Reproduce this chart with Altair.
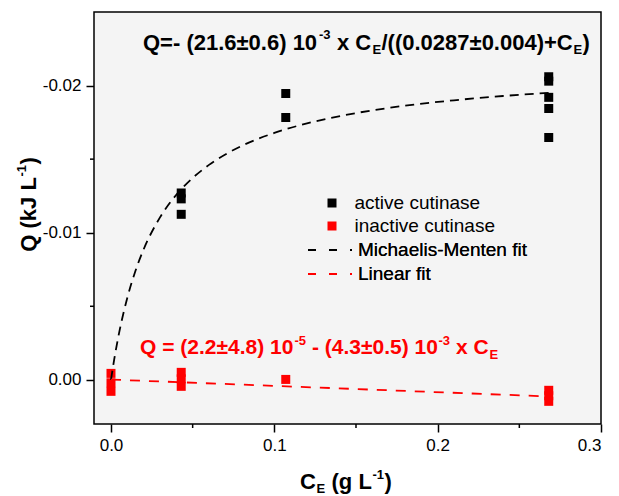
import altair as alt
import pandas as pd

# ---------------- data ----------------
active_x = [0.043, 0.043, 0.043, 0.107, 0.107, 0.268, 0.268, 0.268, 0.268, 0.268]
active_q = [-0.0127, -0.0123, -0.01125, -0.01946, -0.01783,
            -0.0206, -0.0203, -0.0192, -0.01844, -0.01647]

inactive_x = [0.0, 0.0, 0.0, 0.043, 0.043, 0.043, 0.107, 0.268, 0.268, 0.268]
inactive_q = [-0.00044, 0.0002, 0.00078, -0.00051, -0.00007, 0.00044,
              -0.00003, 0.00071, 0.00108, 0.00146]

mm_x = [0.0, 0.002, 0.005, 0.01, 0.015, 0.02, 0.03, 0.04, 0.05, 0.06,
        0.08, 0.10, 0.12, 0.15, 0.18, 0.21, 0.24, 0.268]
mm_q = [0.0, -0.00141, -0.00321, -0.00558, -0.00741, -0.00887, -0.01104,
        -0.01258, -0.01372, -0.01461, -0.01590, -0.01678, -0.01743,
        -0.01813, -0.01863, -0.01900, -0.01929, -0.01951]

lin_x = [0.0, 0.268]
lin_q = [-0.00002, 0.00113]

series_names = ["active cutinase", "inactive cutinase"]
fit_names = ["Michaelis-Menten fit", "Linear fit"]

x_major = [0.0, 0.1, 0.2, 0.3]
x_minor = [0.05, 0.15, 0.25]
y_major = [-0.02, -0.01, 0.0]
y_minor = [-0.015, -0.005]

# ---------------- tables ----------------
pts = pd.DataFrame({
    "conc": active_x + inactive_x,
    "q": active_q + inactive_q,
    "series": [series_names[0]] * len(active_x) + [series_names[1]] * len(inactive_x),
})
mm_df = pd.DataFrame({"conc": mm_x, "q": mm_q, "fit": fit_names[0]})
lin_df = pd.DataFrame({"conc": lin_x, "q": lin_q, "fit": fit_names[1]})

FONT = "Liberation Sans"
W, H = 507, 412
LEFT, TOP = 94, 12

xs = alt.Scale(domain=[-0.0104, 0.3], nice=False, zero=False)
ys = alt.Scale(domain=[-0.025, 0.003], nice=False, zero=False, reverse=True)

xaxis = alt.Axis(values=x_major, format=".1f", title=None, grid=False, domain=False,
                 tickSize=8, tickWidth=1.5, tickColor="black",
                 labelFont=FONT, labelFontSize=17, labelColor="black", labelPadding=5)
yaxis = alt.Axis(values=y_major,
                 labelExpr="datum.value < 0 ? '-' + format(-datum.value, '.2f') : format(datum.value, '.2f')",
                 title=None, grid=False, domain=False,
                 tickSize=8, tickWidth=1.5, tickColor="black",
                 labelFont=FONT, labelFontSize=17, labelColor="black", labelPadding=5)

X = alt.X("conc:Q", scale=xs, axis=xaxis)
Y = alt.Y("q:Q", scale=ys, axis=yaxis)

# plot-area frame and background
frame = alt.Chart(pd.DataFrame({"f": [0]})).mark_rect(
    fill="#f4f4f4", stroke="black", strokeWidth=1.5
).encode(x=alt.value(0), x2=alt.value(W), y=alt.value(0), y2=alt.value(H))

points = alt.Chart(pts).mark_square(size=81, opacity=1).encode(
    x=X, y=Y,
    color=alt.Color("series:N",
                    scale=alt.Scale(domain=series_names, range=["black", "red"]),
                    legend=alt.Legend(orient="none", legendX=228.5, legendY=181.5, title=None,
                                      padding=0, labelFont=FONT, labelFontSize=19,
                                      labelColor="black", labelLimit=400,
                                      symbolType="square", symbolSize=81,
                                      symbolStrokeWidth=0, rowPadding=3, labelOffset=13)),
)

stroke_scale = alt.Scale(domain=fit_names, range=["black", "red"])
line_legend = alt.Legend(orient="none", legendX=213, legendY=228.5, title=None, padding=0,
                         labelFont=FONT, labelFontSize=19, labelColor="black", labelLimit=400,
                         symbolType="stroke", symbolSize=1936, symbolStrokeWidth=1.8,
                         symbolDash=[8, 13], clipHeight=19, rowPadding=4, labelOffset=5)

mm_line = alt.Chart(mm_df).mark_line(strokeDash=[9, 6], strokeWidth=1.8, interpolate="monotone").encode(
    x=X, y=Y, stroke=alt.Stroke("fit:N", scale=stroke_scale, legend=line_legend))
lin_line = alt.Chart(lin_df).mark_line(strokeDash=[10, 9], strokeWidth=1.8).encode(
    x=X, y=Y, stroke=alt.Stroke("fit:N", scale=stroke_scale, legend=line_legend))

# minor ticks
xminor = alt.Chart(pd.DataFrame({"conc": x_minor})).mark_rule(color="black", strokeWidth=1.5).encode(
    x=X, y=alt.value(H), y2=alt.value(H + 4))
yminor = alt.Chart(pd.DataFrame({"q": y_minor})).mark_rule(color="black", strokeWidth=1.5).encode(
    y=Y, x=alt.value(0), x2=alt.value(-4))


def txt(s, px, py, size, color="black", weight="bold", angle=0):
    return alt.Chart(pd.DataFrame({"t": [s]})).mark_text(
        align="left", baseline="middle", font=FONT, fontSize=size,
        fontWeight=weight, color=color, angle=angle,
    ).encode(x=alt.value(px - LEFT), y=alt.value(py - TOP), text="t:N")


# Michaelis-Menten equation (black)
eq1 = [
    txt("Q=- (21.6±0.6) 10", 143, 43, 22),
    txt("-3", 319, 35, 13),
    txt("x C", 337, 43, 22),
    txt("E", 372.5, 50, 13),
    txt("/((0.0287±0.004)+C", 381.5, 43, 22),
    txt("E", 573.5, 50, 13),
    txt(")", 582.5, 43, 22),
]
# Linear equation (red)
R = "#ff0000"
eq2 = [
    txt("Q = (2.2±4.8) 10", 140, 348, 21, R),
    txt("-5", 294.5, 341, 13, R),
    txt("- (4.3±0.5) 10", 312, 348, 21, R),
    txt("-3", 438.5, 341, 13, R),
    txt("x C", 456, 348, 21, R),
    txt("E", 489.5, 355, 13, R),
]
# x-axis title
xt = [
    txt("C", 300, 482, 22),
    txt("E", 316.5, 489, 13),
    txt("(g L", 331.5, 482, 22),
    txt("-1", 372.5, 475, 13),
    txt(")", 384.5, 482, 22),
]
# y-axis title (rotated)
yt = [
    txt("Q (kJ L", 29, 251.75, 22, angle=270),
    txt("-1", 22, 176.5, 13, angle=270),
    txt(")", 29, 164.5, 22, angle=270),
]

chart = alt.layer(
    frame, points, mm_line, lin_line, xminor, yminor, *eq1, *eq2, *xt, *yt
).resolve_scale(color="independent", stroke="independent").properties(
    width=W, height=H,
    background="white",
    autosize=alt.AutoSizeParams(type="none"),
    padding={"left": LEFT, "top": TOP, "right": 619 - LEFT - W, "bottom": 496 - TOP - H},
).configure_view(
    stroke=None, fill=None
)

chart.save("out.html", embed_options={"renderer": "svg", "actions": False})
